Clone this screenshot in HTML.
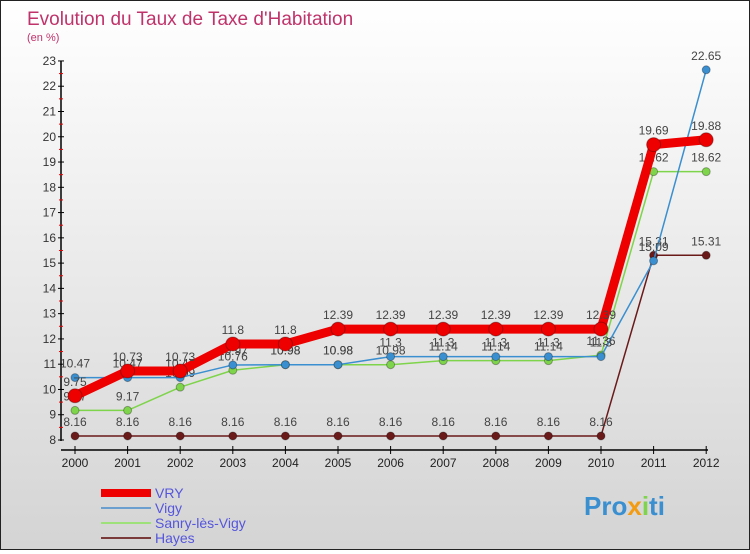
<!DOCTYPE html>
<html><head><meta charset="utf-8"><style>
body{margin:0;width:750px;height:550px;overflow:hidden;font-family:"Liberation Sans",sans-serif}
#wrap{position:relative;width:748px;height:548px;border:1px solid #222;background:linear-gradient(#fff,#d4d4d4)}
</style></head><body>
<div id="wrap">
<svg id="chart" width="748" height="548"></svg>
</div>
<script>
const years=[2000,2001,2002,2003,2004,2005,2006,2007,2008,2009,2010,2011,2012];
const vry=[9.75,10.73,10.73,11.8,11.8,12.39,12.39,12.39,12.39,12.39,12.39,19.69,19.88];
const vigy=[10.47,10.47,10.47,10.97,10.98,10.98,11.3,11.3,11.3,11.3,11.3,15.09,22.65];
const sanry=[9.17,9.17,10.09,10.76,10.98,10.98,10.98,11.14,11.14,11.14,11.36,18.62,18.62];
const hayes=[8.16,8.16,8.16,8.16,8.16,8.16,8.16,8.16,8.16,8.16,8.16,15.31,15.31];
const yTicks=[8,9,10,11,12,13,14,15,16,17,18,19,20,21,22,23];
const NS="http://www.w3.org/2000/svg",svg=document.getElementById('chart');
const X=i=>74+i*52.6, Y=v=>439-(v-8)*25.27;
function el(t,a,p){const e=document.createElementNS(NS,t);for(const k in a)e.setAttribute(k,a[k]);(p||svg).appendChild(e);return e;}
let t=el('text',{x:26,y:24,fill:'#c0336a','font-size':19});t.textContent="Evolution du Taux de Taxe d'Habitation";

t=el('text',{x:26,y:40,fill:'#c0336a','font-size':11});t.textContent="(en %)";

let ax=el('line',{x1:60,y1:60,x2:60,y2:440,stroke:'#000','stroke-width':1.5});

ax=el('line',{x1:60,y1:449,x2:707,y2:449,stroke:'#000','stroke-width':1.5});

yTicks.forEach(v=>{el('line',{x1:57,x2:63,y1:Y(v),y2:Y(v),stroke:'#000'});
if(v<23)el('line',{x1:58,x2:62,y1:Y(v+0.5),y2:Y(v+0.5),stroke:'#e00'});
const l=el('text',{x:55,y:Y(v)+4,'text-anchor':'end','font-size':12,fill:'#333'});l.textContent=v;
});
years.forEach((y,i)=>{el('line',{x1:X(i),x2:X(i),y1:445,y2:453,stroke:'#000'});
const l=el('text',{x:X(i),y:466,'text-anchor':'middle','font-size':12,fill:'#222'});l.textContent=y;
});
function series(d,c,w,r,name){const g=el('g',{});
el('polyline',{points:d.map((v,i)=>X(i)+','+Y(v)).join(' '),fill:'none',stroke:c,'stroke-width':w,'stroke-linejoin':'round'},g);
d.forEach((v,i)=>{const p=el('circle',{cx:X(i),cy:Y(v),r:r,fill:c,stroke:'rgba(0,0,0,0.3)'},g);

const l=el('text',{x:X(i),y:Y(v)-10,'text-anchor':'middle','font-size':12,fill:'#444'},g);l.textContent=v;});}
series(hayes,'#6b1a1a',1.5,4,'hayes');
series(sanry,'#7ed44a',1.5,4,'sanry');
series(vigy,'#3a8fd0',1.5,4,'vigy');
series(vry,'#ee0000',9,7,'vry');
const leg=[['VRY','#ee0000',8],['Vigy','#6a9fd0',2],['Sanry-lès-Vigy','#9ee07a',2],['Hayes','#7a3a3a',2]];
leg.forEach((l,i)=>{const g=el('g',{});
const y=492+i*15;el('line',{x1:100,x2:150,y1:y,y2:y,stroke:l[1],'stroke-width':l[2]},g);
const tx=el('text',{x:154,y:y+5,'font-size':14,fill:'#5555dd'},g);tx.textContent=l[0];});
t=el('text',{x:583,y:514,'font-size':26,'font-weight':'bold',fill:'#3a8fd0'});t.innerHTML='Pro<tspan fill="#f39c12">x</tspan><tspan fill="#7ed44a">i</tspan>ti';

</script>
</body></html>
